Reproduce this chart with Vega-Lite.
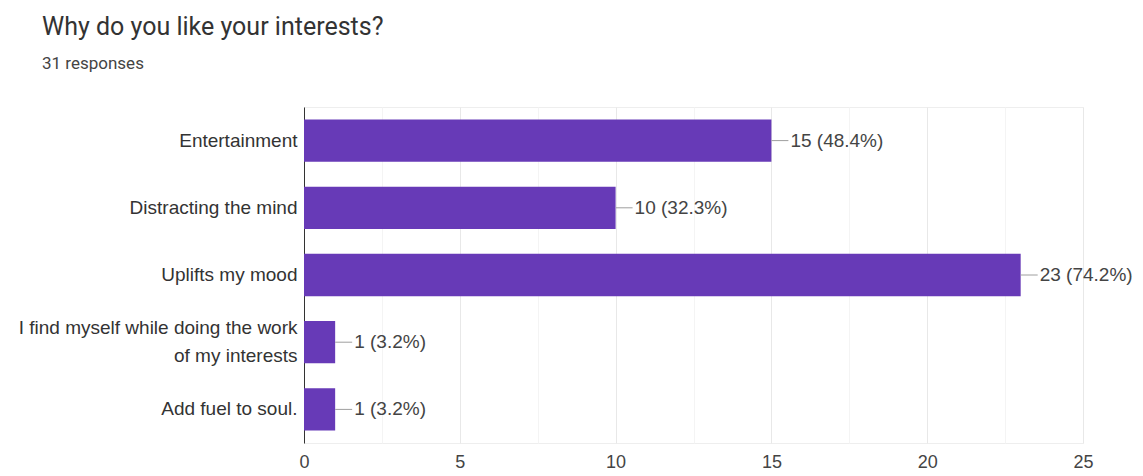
{
  "$schema": "https://vega.github.io/schema/vega-lite/v6.json",
  "autosize": "none",
  "width": 779,
  "height": 336,
  "padding": {"left": 304, "top": 107, "right": 60, "bottom": 33},
  "background": "white",
  "config": {
    "view": {"stroke": "#eeeeee"},
    "font": "Liberation Sans"
  },
  "title": {
    "text": "Why do you like your interests?",
    "subtitle": "31 responses",
    "anchor": "start",
    "frame": "group",
    "dx": -262,
    "offset": 35,
    "font": "Roboto",
    "fontSize": 25,
    "fontWeight": "normal",
    "color": "#333333",
    "subtitleFont": "Roboto",
    "subtitleFontSize": 17,
    "subtitleColor": "#444444",
    "subtitlePadding": 16
  },
  "data": {
    "values": [
      {"reason": "Entertainment", "count": 15, "label": "15 (48.4%)"},
      {"reason": "Distracting the mind", "count": 10, "label": "10 (32.3%)"},
      {"reason": "Uplifts my mood", "count": 23, "label": "23 (74.2%)"},
      {"reason": "I find myself while doing the work of my interests", "count": 1, "label": "1 (3.2%)"},
      {"reason": "Add fuel to soul.", "count": 1, "label": "1 (3.2%)"}
    ]
  },
  "encoding": {
    "y": {
      "field": "reason",
      "type": "nominal",
      "sort": null,
      "title": null,
      "scale": {"paddingInner": 0.37, "paddingOuter": 0.185},
      "axis": {
        "ticks": false,
        "domainColor": "#333333",
        "labelPadding": 7,
        "labelFontSize": 19,
        "labelColor": "#333333",
        "labelLimit": 400,
        "labelLineHeight": 28,
        "labelOffset": {"condition": {"test": "indexof(datum.value, 'I find') == 0", "value": -14}, "value": 0},
        "labelExpr": "datum.label == 'I find myself while doing the work of my interests' ? ['I find myself while doing the work', 'of my interests'] : datum.label"
      }
    }
  },
  "layer": [
    {
      "mark": {"type": "bar", "color": "#673ab7"},
      "encoding": {
        "x": {
          "field": "count",
          "type": "quantitative",
          "title": null,
          "scale": {"domain": [0, 25], "nice": false},
          "axis": {
            "values": [0, 2.5, 5, 7.5, 10, 12.5, 15, 17.5, 20, 22.5, 25],
            "labelExpr": "datum.value % 5 == 0 ? datum.label : ''",
            "labelFlush": false,
            "domain": false,
            "ticks": false,
            "labelPadding": 10,
            "labelFontSize": 18,
            "labelColor": "#444444",
            "gridColor": {"condition": {"test": "datum.value % 5 == 0", "value": "#e8e8e8"}, "value": "#f4f4f4"}
          }
        }
      }
    },
    {
      "mark": {"type": "rule", "color": "#9e9e9e", "x2Offset": 17},
      "encoding": {
        "x": {"field": "count", "type": "quantitative"},
        "x2": {"field": "count"}
      }
    },
    {
      "mark": {"type": "text", "align": "left", "baseline": "middle", "dx": 19, "fontSize": 19, "color": "#444444"},
      "encoding": {
        "x": {"field": "count", "type": "quantitative"},
        "text": {"field": "label"}
      }
    }
  ]
}
